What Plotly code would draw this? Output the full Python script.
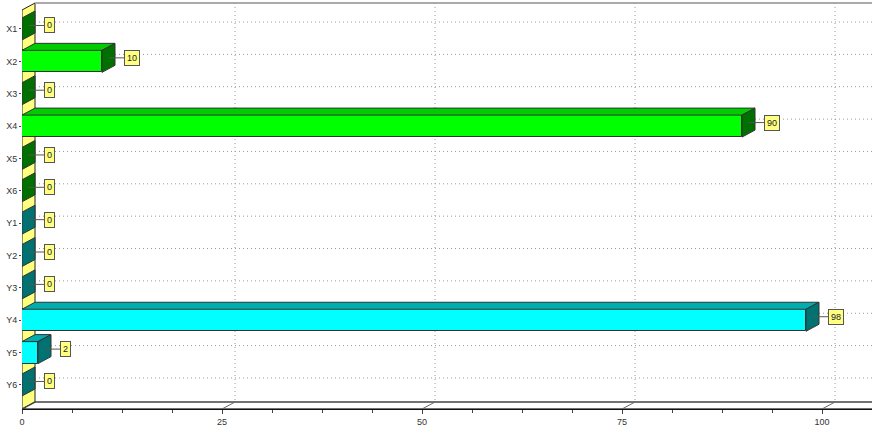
import plotly.graph_objects as go

# Categories and values
categories = ["X1", "X2", "X3", "X4", "X5", "X6", "Y1", "Y2", "Y3", "Y4", "Y5", "Y6"]
values = [0, 10, 0, 90, 0, 0, 0, 0, 0, 98, 2, 0]
groups = ["X", "X", "X", "X", "X", "X", "Y", "Y", "Y", "Y", "Y", "Y"]

x_ticks = [0, 25, 50, 75, 100]

# Face colours per group: front, top, side
palette = {
    "X": ("#00ff00", "#00cc00", "#007000"),
    "Y": ("#00ffff", "#00aeae", "#007272"),
}

# Geometry (in axis units)
X_MAX = 106.25          # 8 px per unit over the plot width
Y_TOP = -0.896          # reversed category axis
Y_BOT = 11.743
DX = 13 / 8.0           # 3D depth, horizontal
DY = 7 / 32.36          # 3D depth, vertical (rows)
HALF = 11 / 32.36       # half bar thickness (rows)
WALL_TOP = -0.803
FLOOR_BACK = Y_BOT - DY

rows = list(range(len(categories)))
fronts = [palette[g][0] for g in groups]

fig = go.Figure()
fig.add_trace(go.Bar(
    x=values, y=rows, orientation="h", width=2 * HALF,
    marker=dict(color=fronts, line=dict(color="#333333", width=1)),
    hoverinfo="skip", showlegend=False,
))

shapes = []


def poly(pts, fill, line="#333333", width=1, layer="above"):
    path = "M " + " L ".join(f"{x},{y}" for x, y in pts) + " Z"
    return dict(type="path", path=path, xref="x", yref="y", fillcolor=fill,
                line=dict(color=line, width=width), layer=layer)


def seg(x0, y0, x1, y1, color, width=1, dash="solid", layer="above"):
    return dict(type="line", x0=x0, y0=y0, x1=x1, y1=y1, xref="x", yref="y",
                line=dict(color=color, width=width, dash=dash), layer=layer)


GRID_DASH = "1px,3px"

# Left wall (yellow) and floor
shapes.append(poly([(0, WALL_TOP + DY), (DX, WALL_TOP), (DX, FLOOR_BACK), (0, Y_BOT)],
                   "#ffff80", "#222222", 1, "below"))
shapes.append(poly([(0, Y_BOT), (DX, FLOOR_BACK), (X_MAX + DX, FLOOR_BACK), (X_MAX, Y_BOT)],
                   "#ffffff", "#444444", 1.5, "below"))
# Top edge of the back wall
shapes.append(seg(DX, WALL_TOP, X_MAX, WALL_TOP, "#aaaaaa", 2, layer="below"))

# Back-wall gridlines
for t in x_ticks[1:]:
    shapes.append(seg(t + DX, WALL_TOP, t + DX, FLOOR_BACK, "#9a9a9a", 1, GRID_DASH, "below"))
    shapes.append(seg(t, Y_BOT, t + DX, FLOOR_BACK, "#666666", 1, layer="below"))
for r in rows:
    shapes.append(seg(DX, r - DY, X_MAX, r - DY, "#9a9a9a", 1, GRID_DASH, "below"))

# Top and side faces of each bar
for r, v, g in zip(rows, values, groups):
    _, top_c, side_c = palette[g]
    yt, yb = r - HALF, r + HALF
    if v > 0:
        shapes.append(poly([(0, yt), (DX, yt - DY), (v + DX, yt - DY), (v, yt)], top_c))
    shapes.append(poly([(v, yt), (v + DX, yt - DY), (v + DX, yb - DY), (v, yb)], side_c))

# Leader lines and value labels
annotations = []
for r, v in zip(rows, values):
    ym = r - DY / 2
    shapes.append(seg(v + DX / 2, ym, v + 2.75, ym, "#555555", 1))
    annotations.append(dict(
        x=v + 2.75, y=ym, xref="x", yref="y", text=str(v), showarrow=False,
        xanchor="left", yanchor="middle", bgcolor="#ffff80",
        bordercolor="#555555", borderwidth=1, borderpad=2,
        font=dict(family="Liberation Sans, Arial, sans-serif", size=9, color="#222222"),
    ))

fig.update_layout(
    width=872, height=430,
    margin=dict(l=22, r=0, t=0, b=21),
    paper_bgcolor="#ffffff", plot_bgcolor="#ffffff",
    shapes=shapes, annotations=annotations,
    bargap=0, showlegend=False,
    font=dict(family="Liberation Sans, Arial, sans-serif", size=9, color="#333333"),
    xaxis=dict(
        range=[0, X_MAX], tickvals=x_ticks, ticktext=[str(t) for t in x_ticks],
        showgrid=False, zeroline=False, showline=True, linecolor="#111111", linewidth=1,
        ticks="outside", ticklen=4, tickcolor="#444444",
        minor=dict(dtick=6.25, tick0=0, ticks="outside", ticklen=3, tickcolor="#444444"),
        tickfont=dict(size=9, color="#333333"), fixedrange=True,
    ),
    yaxis=dict(
        range=[Y_BOT, Y_TOP], tickvals=rows, ticktext=categories,
        showgrid=False, zeroline=False, showline=False,
        ticks="outside", ticklen=2, tickcolor="#444444",
        tickfont=dict(size=9, color="#333333"), fixedrange=True,
    ),
)

fig.write_html("out.html")
